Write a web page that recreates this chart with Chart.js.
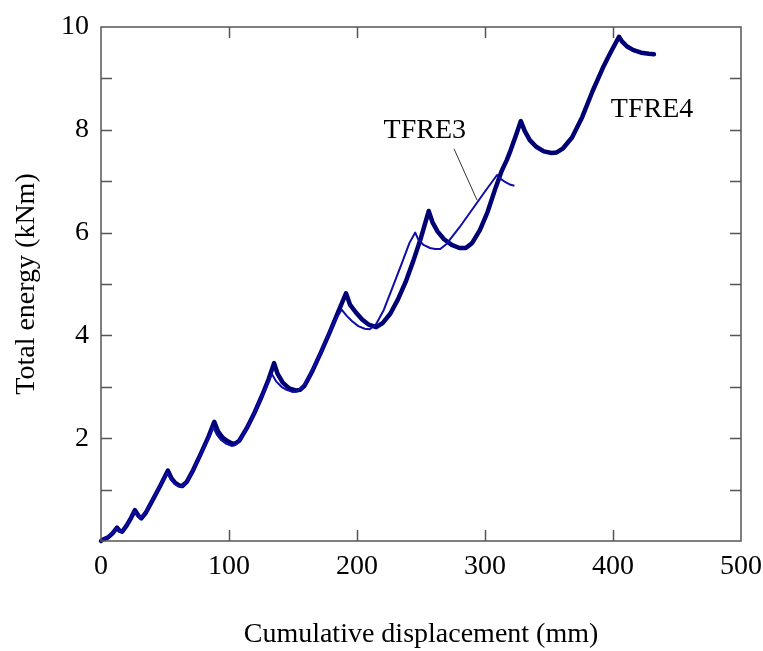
<!DOCTYPE html>
<html>
<head>
<meta charset="utf-8">
<script src="https://cdn.jsdelivr.net/npm/chart.js@4.4.1/dist/chart.umd.min.js"></script>
<style>
  body { margin: 0; background: #fff; }
  #wrap { width: 763px; height: 651px; }
</style>
</head>
<body>
<div id="wrap"><canvas id="myChart" width="763" height="651"></canvas></div>
<script>
// TFRE4 (thick) : cumulative displacement (mm) / total energy (kNm)
const tfre4_x = [0, 0.8, 5.5, 9, 12.5, 14.5, 16.5, 20, 23.5, 26.5, 29, 31.5, 35, 40, 46, 52.3, 55, 58, 61, 63.5,
  67, 72, 78, 84, 88.5, 91.5, 95, 99, 102, 104.5, 108, 114, 120, 126, 131, 135.2, 138, 142, 147, 152, 155.5,
  159, 165, 172, 179, 185, 191.4, 194.5, 199, 204, 209, 215, 220, 226, 232, 238, 244, 250, 256,
  259, 263, 268, 274, 280, 285, 290, 296, 302, 308, 313, 317, 320, 324, 328,
  331, 335, 340, 346, 352, 356, 361, 368, 376, 384, 392, 398, 404.7, 407, 411, 416, 422, 428, 432];
const tfre4_y = [0, 0.02, 0.07, 0.15, 0.26, 0.2, 0.18, 0.3, 0.45, 0.6, 0.5, 0.44, 0.55, 0.78, 1.06, 1.37, 1.22, 1.13, 1.08, 1.07,
  1.15, 1.38, 1.7, 2.03, 2.32, 2.13, 2.01, 1.94, 1.9, 1.89, 1.95, 2.2, 2.5, 2.84, 3.15, 3.46, 3.25, 3.08, 2.97, 2.93, 2.94,
  3.02, 3.3, 3.68, 4.08, 4.44, 4.82, 4.6, 4.45, 4.31, 4.21, 4.16, 4.24, 4.42, 4.7, 5.04, 5.45, 5.9, 6.42,
  6.2, 6.02, 5.87, 5.76, 5.7, 5.7, 5.8, 6.05, 6.4, 6.85, 7.2, 7.41, 7.6, 7.88, 8.17,
  7.98, 7.8, 7.67, 7.58, 7.55, 7.56, 7.64, 7.85, 8.25, 8.75, 9.2, 9.5, 9.81, 9.72, 9.62, 9.55, 9.5, 9.48, 9.47];

// TFRE3 (thin)
const tfre3_x = [0, 0.8, 5.5, 9, 12.3, 14.5, 16.5, 20, 23.5, 26, 28.5, 31, 35, 40, 46, 51.8, 54.5, 57.5, 60.5, 63,
  67, 72, 78, 84, 87.5, 90.5, 94, 98, 102, 104, 108, 114, 120, 126, 130, 133.5, 137, 141, 145, 150, 153,
  157, 163, 170, 177, 183, 188, 192, 196, 201, 206, 210, 215, 221, 228, 235, 241, 245.5,
  248, 252, 257, 261, 265, 270, 280, 290, 300, 309.4, 312, 316, 320, 323];
const tfre3_y = [0, 0.02, 0.08, 0.16, 0.25, 0.2, 0.18, 0.3, 0.46, 0.58, 0.5, 0.45, 0.56, 0.8, 1.08, 1.33, 1.2, 1.11, 1.07, 1.06,
  1.15, 1.38, 1.7, 2.0, 2.22, 2.07, 1.96, 1.89, 1.85, 1.86, 1.95, 2.2, 2.5, 2.84, 3.06, 3.25, 3.1, 3.0, 2.94, 2.9, 2.91,
  2.98, 3.22, 3.58, 3.98, 4.3, 4.5, 4.38, 4.28, 4.18, 4.13, 4.12, 4.22, 4.5, 4.95, 5.4, 5.8, 6.0,
  5.86, 5.76, 5.7, 5.68, 5.68, 5.78, 6.1, 6.45, 6.8, 7.12, 7.05, 6.98, 6.93, 6.91];

const yTickLabels = ['2', '4', '6', '8', '10'];

// labels written on the plot (data coordinates)
const notes = [
  { text: 'TFRE3', x: 253, y: 7.98, lineFrom: [275.8, 7.63], lineTo: [293.8, 6.63] },
  { text: 'TFRE4', x: 430.5, y: 8.39 }
];

const serif = "'Liberation Serif', 'Times New Roman', serif";

function toPoints(xs, ys) {
  return xs.map((x, i) => ({ x: x, y: ys[i] }));
}

const frameAndTicks = {
  id: 'frameAndTicks',
  afterDraw(chart) {
    const ctx = chart.ctx;
    const a = chart.chartArea;
    const xs = chart.scales.x, ys = chart.scales.y;
    const len = 11;
    ctx.save();
    ctx.strokeStyle = '#555';
    ctx.lineWidth = 1.5;
    ctx.strokeRect(a.left, a.top, a.right - a.left, a.bottom - a.top);
    ctx.beginPath();
    xs.ticks.forEach(t => {
      if (t.value <= xs.min || t.value >= xs.max) return;
      const px = Math.round(xs.getPixelForValue(t.value)) + 0.5;
      ctx.moveTo(px, a.bottom); ctx.lineTo(px, a.bottom - len);
      ctx.moveTo(px, a.top); ctx.lineTo(px, a.top + len);
    });
    ys.ticks.forEach(t => {
      if (t.value <= ys.min || t.value >= ys.max) return;
      const py = Math.round(ys.getPixelForValue(t.value)) + 0.5;
      ctx.moveTo(a.left, py); ctx.lineTo(a.left + len, py);
      ctx.moveTo(a.right, py); ctx.lineTo(a.right - len, py);
    });
    ctx.stroke();

    ctx.fillStyle = '#000';
    ctx.font = '28px ' + serif;
    ctx.textAlign = 'center';
    ctx.textBaseline = 'middle';
    notes.forEach(n => {
      ctx.fillText(n.text, xs.getPixelForValue(n.x), ys.getPixelForValue(n.y));
      if (n.lineFrom) {
        ctx.beginPath();
        ctx.strokeStyle = '#333';
        ctx.lineWidth = 1;
        ctx.moveTo(xs.getPixelForValue(n.lineFrom[0]), ys.getPixelForValue(n.lineFrom[1]));
        ctx.lineTo(xs.getPixelForValue(n.lineTo[0]), ys.getPixelForValue(n.lineTo[1]));
        ctx.stroke();
      }
    });
    ctx.restore();
  }
};

new Chart(document.getElementById('myChart'), {
  type: 'line',
  data: {
    datasets: [
      {
        label: 'TFRE3',
        data: toPoints(tfre3_x, tfre3_y),
        borderColor: '#0e0ea6',
        borderWidth: 2,
        pointRadius: 0,
        tension: 0,
        borderJoinStyle: 'round',
        order: 1
      },
      {
        label: 'TFRE4',
        data: toPoints(tfre4_x, tfre4_y),
        borderColor: '#000074',
        borderWidth: 4.5,
        pointRadius: 0,
        tension: 0,
        borderJoinStyle: 'round',
        borderCapStyle: 'round',
        order: 2
      }
    ]
  },
  options: {
    responsive: false,
    animation: false,
    clip: false,
    layout: { padding: { left: 0, right: 22, top: 27, bottom: 0 } },
    plugins: {
      legend: { display: false },
      tooltip: { enabled: false }
    },
    scales: {
      x: {
        type: 'linear',
        min: 0,
        max: 500,
        border: { display: false },
        grid: { display: false, drawTicks: false },
        ticks: {
          stepSize: 100,
          padding: 9,
          color: '#000',
          font: { family: serif, size: 28 }
        },
        title: {
          display: true,
          text: 'Cumulative displacement (mm)',
          color: '#000',
          font: { family: serif, size: 28 },
          padding: { top: 0, bottom: 0 }
        },
        afterFit(scale) {
          scale.height = 110;
          scale.paddingLeft = 0;
          scale.paddingRight = 0;
        }
      },
      y: {
        type: 'linear',
        min: 0,
        max: 10,
        border: { display: false },
        grid: { display: false, drawTicks: false },
        ticks: {
          stepSize: 1,
          padding: 12,
          color: '#000',
          font: { family: serif, size: 28 },
          callback: v => yTickLabels.includes(String(v)) ? String(v) : ''
        },
        title: {
          display: true,
          text: 'Total energy (kNm)',
          color: '#000',
          font: { family: serif, size: 28 },
          padding: { top: 10, bottom: 0 }
        },
        afterFit(scale) {
          scale.width = 101;
          scale.paddingTop = 0;
          scale.paddingBottom = 0;
        }
      }
    }
  },
  plugins: [frameAndTicks]
});
</script>
</body>
</html>
